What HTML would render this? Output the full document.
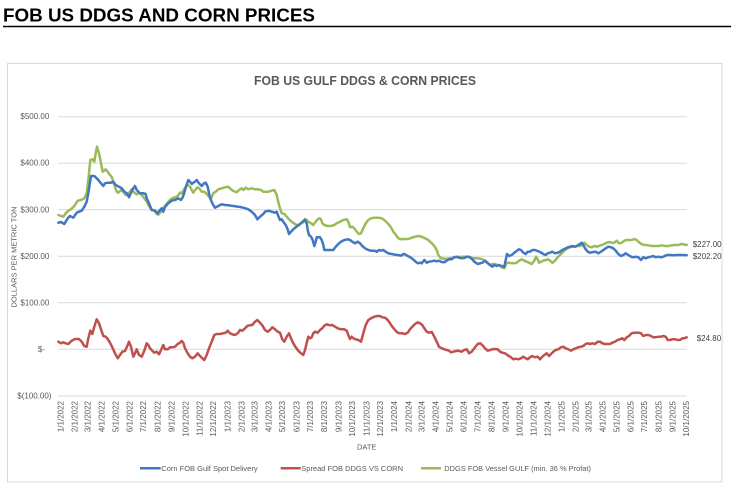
<!DOCTYPE html>
<html><head><meta charset="utf-8"><style>
html,body{margin:0;padding:0;background:#fff;}
svg{display:block;}
text{font-family:"Liberation Sans",Arial,sans-serif;}
</style></head><body>
<svg width="731" height="492" viewBox="0 0 731 492" xmlns="http://www.w3.org/2000/svg">
<rect width="731" height="492" fill="#fff"/>
<text x="3" y="21.7" font-size="18.5" font-weight="bold" fill="#000" textLength="312" lengthAdjust="spacingAndGlyphs">FOB US DDGS AND CORN PRICES</text>
<line x1="3" y1="26.5" x2="731" y2="26.5" stroke="#000" stroke-width="1.4"/>
<rect x="7.5" y="63.5" width="714.5" height="418.5" fill="#fff" stroke="#d9d9d9" stroke-width="1"/>
<text x="254" y="85" font-size="12.5" font-weight="bold" fill="#595959" textLength="222" lengthAdjust="spacingAndGlyphs">FOB US GULF DDGS &amp; CORN PRICES</text>
<g stroke="#d9d9d9" stroke-width="1">
<line x1="58" y1="116.7" x2="687" y2="116.7"/>
<line x1="58" y1="163.2" x2="687" y2="163.2"/>
<line x1="58" y1="209.8" x2="687" y2="209.8"/>
<line x1="58" y1="256.3" x2="687" y2="256.3"/>
<line x1="58" y1="302.8" x2="687" y2="302.8"/>
<line x1="58" y1="349.3" x2="687" y2="349.3"/>
<line x1="58" y1="395.9" x2="687" y2="395.9"/>
</g>
<g font-size="8" fill="#595959" text-anchor="end" dominant-baseline="central">
<text x="49.3" y="116.7">$500.00</text>
<text x="49.3" y="163.2">$400.00</text>
<text x="49.3" y="209.8">$300.00</text>
<text x="49.3" y="256.3">$200.00</text>
<text x="49.3" y="302.8">$100.00</text>
<text x="45" y="349.3">$-</text>
<text x="51.5" y="395.9">$(100.00)</text>
</g>
<text transform="translate(14,257) rotate(-90)" font-size="7.5" fill="#595959" text-anchor="middle" dominant-baseline="central">DOLLARS PER METRIC TON</text>
<g font-size="8" fill="#595959" text-anchor="end" dominant-baseline="central">
<text transform="translate(61.0,401) rotate(-90)">1/1/2022</text>
<text transform="translate(75.2,401) rotate(-90)">2/1/2022</text>
<text transform="translate(88.0,401) rotate(-90)">3/1/2022</text>
<text transform="translate(102.1,401) rotate(-90)">4/1/2022</text>
<text transform="translate(115.8,401) rotate(-90)">5/1/2022</text>
<text transform="translate(130.0,401) rotate(-90)">6/1/2022</text>
<text transform="translate(143.7,401) rotate(-90)">7/1/2022</text>
<text transform="translate(157.9,401) rotate(-90)">8/1/2022</text>
<text transform="translate(172.1,401) rotate(-90)">9/1/2022</text>
<text transform="translate(185.8,401) rotate(-90)">10/1/2022</text>
<text transform="translate(199.9,401) rotate(-90)">11/1/2022</text>
<text transform="translate(213.7,401) rotate(-90)">12/1/2022</text>
<text transform="translate(227.8,401) rotate(-90)">1/1/2023</text>
<text transform="translate(242.0,401) rotate(-90)">2/1/2023</text>
<text transform="translate(254.8,401) rotate(-90)">3/1/2023</text>
<text transform="translate(269.0,401) rotate(-90)">4/1/2023</text>
<text transform="translate(282.7,401) rotate(-90)">5/1/2023</text>
<text transform="translate(296.8,401) rotate(-90)">6/1/2023</text>
<text transform="translate(310.6,401) rotate(-90)">7/1/2023</text>
<text transform="translate(324.7,401) rotate(-90)">8/1/2023</text>
<text transform="translate(338.9,401) rotate(-90)">9/1/2023</text>
<text transform="translate(352.6,401) rotate(-90)">10/1/2023</text>
<text transform="translate(366.8,401) rotate(-90)">11/1/2023</text>
<text transform="translate(380.5,401) rotate(-90)">12/1/2023</text>
<text transform="translate(394.6,401) rotate(-90)">1/1/2024</text>
<text transform="translate(408.8,401) rotate(-90)">2/1/2024</text>
<text transform="translate(422.1,401) rotate(-90)">3/1/2024</text>
<text transform="translate(436.2,401) rotate(-90)">4/1/2024</text>
<text transform="translate(449.9,401) rotate(-90)">5/1/2024</text>
<text transform="translate(464.1,401) rotate(-90)">6/1/2024</text>
<text transform="translate(477.8,401) rotate(-90)">7/1/2024</text>
<text transform="translate(492.0,401) rotate(-90)">8/1/2024</text>
<text transform="translate(506.2,401) rotate(-90)">9/1/2024</text>
<text transform="translate(519.9,401) rotate(-90)">10/1/2024</text>
<text transform="translate(534.0,401) rotate(-90)">11/1/2024</text>
<text transform="translate(547.8,401) rotate(-90)">12/1/2024</text>
<text transform="translate(561.9,401) rotate(-90)">1/1/2025</text>
<text transform="translate(576.1,401) rotate(-90)">2/1/2025</text>
<text transform="translate(588.9,401) rotate(-90)">3/1/2025</text>
<text transform="translate(603.1,401) rotate(-90)">4/1/2025</text>
<text transform="translate(616.8,401) rotate(-90)">5/1/2025</text>
<text transform="translate(631.0,401) rotate(-90)">6/1/2025</text>
<text transform="translate(644.7,401) rotate(-90)">7/1/2025</text>
<text transform="translate(658.8,401) rotate(-90)">8/1/2025</text>
<text transform="translate(673.0,401) rotate(-90)">9/1/2025</text>
<text transform="translate(686.7,401) rotate(-90)">10/1/2025</text>
</g>
<text x="366.7" y="447" font-size="7.5" fill="#595959" text-anchor="middle" dominant-baseline="central">DATE</text>
<g fill="none" stroke-width="2.5" stroke-linejoin="round" stroke-linecap="round">
<polyline stroke="#9bbb59" points="58.3,215 61,216 63.3,216.7 65.7,213.3 68.3,210.7 71,209.3 74.3,206 77.7,200.7 81,200 84.3,198.3 86.7,193.3 88.3,180 90.3,160 92.3,159.3 94.3,161.7 95.7,153.3 97,146.7 99,153.3 101,163.3 102.7,171.7 104.3,170.7 105.7,169.3 107.7,171.7 110,175 111.7,176.7 113.3,181.7 115,186.7 116.7,191.7 118.3,192.7 121,190 123.3,191.7 125.7,195 127.7,194 130,191.7 131.7,189.3 134.3,192.7 136.7,194.3 139,192.7 141.7,195 144.3,198.3 146.7,201.7 149,206 151.7,210 154.3,210 156.7,214 158.3,214.7 161,211.7 163.3,208.3 165,206 167.7,202.7 170,200 172.3,198.3 175,197.3 177.7,196 180,192.7 181.7,193.3 183.3,190.7 185.7,186.7 187.7,185 190,186.7 191.7,190 193.3,192.7 195,190 197.7,187.3 200,189.3 201.7,191.7 204.3,191.7 206.7,194 209,196.7 211,198.3 213.3,193.3 215.7,191.7 218.3,189.3 221.7,188.3 225,187.3 228.3,186.7 231,189.3 233.3,191 236.7,192.3 239,190 241.7,188.3 243.3,190 245.7,187.7 248.3,189.3 251.7,188.3 255,189.3 258.3,189.3 261,190 263.3,191.7 265,191.7 268.3,191.7 271.7,190.7 274.3,190 276.7,195 279,205 281.7,213.3 284.3,214 286.7,216.7 289,219.3 291.7,221.7 295,224 298.3,226 301,223.3 303.3,220.7 305,219 306.7,220 308.3,221.7 311,223.3 313.3,225 315.7,221.7 317.7,219.3 319.3,218.3 321,219.3 322.3,223.3 324.3,225 327.7,226 331,226 334.3,225 336.7,223.3 340,221.7 343.3,220 346.7,219.3 348.3,221.7 350,227.3 352.3,226.7 354.3,228.3 356.7,231.7 359,234 361,233.3 363.3,228.3 365.7,223.3 368.3,220 371,218.3 374.3,217.7 378.3,217.7 381.7,218.3 384.3,220 387.7,223.3 391,227.3 393.3,231.7 396,235 398.3,238.3 401.7,239.3 405,239 408.3,239 411.7,237.7 415,236.7 418.3,236 421.7,236.7 425,238.3 428.3,240 431.7,243.3 434.3,246 436.7,250 438.3,255 441,258.3 444.3,258.7 447.7,258.7 451,258 455,257.3 459,257 463.3,256.7 466.7,256.7 470,257.3 473.3,258.3 475,258.3 477.7,258.3 480,258.7 482.3,259.3 485,260.7 487.7,262.7 490,265 492.3,264 495,264 497.7,265 500,266 502.3,267.7 504.3,268.3 505.7,265 507,262.7 509,262.7 511.7,263.3 514.3,263.3 516.7,262.7 519,260.7 521.7,259.3 524.3,260.7 526.7,261.7 529,262.7 531.7,264 534.3,260.7 536,256.7 537.7,259.3 539,262.7 541,261.7 543.3,260.7 545.7,260 548.3,259.3 550,260.7 552.3,262.7 555,260.7 557.7,257.3 560,255 562.3,252.7 565,250 567.7,248.3 570,247.3 572.3,246.7 575,246.7 577.7,246 580,246 582.3,245 584.3,242.7 586.7,245 589,246.7 591.7,247.3 594.3,246 596.7,246.7 599,246 601.7,245 604.3,244 606.7,242.7 609,242 611.7,242.7 614.3,242.7 616.7,240.7 619,243.3 621.7,242.7 624.3,240.7 626.7,240 629,240 631.7,240 634.3,239 636.7,240 639,242.3 641.7,244.3 645,245 648.3,245.3 651.7,246 655,246 658.3,246 661.7,245.3 665,246 668.3,246 671.7,245.3 675,245 678.3,245 681,244 683.3,244.3 686.7,245"/>
<polyline stroke="#4277c2" points="58.3,222.7 61,222 64.3,224 67.7,218.3 70,216 73.3,217.7 76.7,212.7 80,211.3 81.7,210.7 84.3,206.7 86.7,201.7 88.3,193.3 91,176 94.3,176 97.7,179.3 101,183.3 103.3,186 105,183.3 107.7,182.7 111,182.7 113.3,181.7 115.7,185 119,186.7 121.7,188.3 124.3,191.7 126.7,193.3 129,197.3 131,192.7 133.3,188.3 135,186 136.7,190 140,193.3 143.3,193.3 145.7,194 146.7,198.3 149,203.3 151.7,210 155,210.7 157.7,213.3 160,210 161.7,208.3 163.3,211.7 165,206.7 168.3,203.3 171.7,200.7 175,200 178.3,198.3 181,200 182.7,197.3 184.3,192.7 186,186.7 188.3,180 190,181.7 191.7,184 193.3,182.7 195,181.7 196.7,180 199,183.3 201.7,186 204,183.3 205.7,182.7 207.7,186.7 209,193.3 210.3,198.3 212.3,203.3 215,207.7 218.3,206 221.7,204.3 225,205 228.3,205.3 233.3,206 238.3,206.7 243.3,207.7 248.3,209.3 251.7,211.7 255,215 257.3,219.3 260,216.7 263.3,214 265,211.7 268.3,210.7 271.7,211.7 275,212.7 276.7,211.7 278.3,216 280,220 281.7,219.3 283.3,221.7 285.7,225 287.7,229.3 289,234 291,231.7 293.3,229.3 295.7,227.3 298.3,225 301,223.3 303.3,221.7 305,220 306.7,223.3 307.7,230 309,235 311,236.7 312.7,240 314.3,246 315.7,241.7 316.7,237.3 318.3,237.3 320,237.3 321.7,240 323.3,245 324.3,250 326.7,250 330,250 333.3,250 335.7,246.7 338.3,244 341,241.7 344.3,240 347.7,239.3 350,240 352.3,241.7 355,243.3 357.7,241.7 360,243.3 362.3,246 365,248.3 368.3,250 371,250.7 374.3,250.7 376.7,251.7 379,250 381,250.7 383.3,250 385.7,251.7 388.3,253.3 391.7,254 395,254.7 397.7,255 401,255.7 403.3,254 405,254.3 407.7,256 410.3,257.3 413,259.3 415.7,261.7 417.7,263.3 420,262.7 421.7,263.3 424.3,260 426.7,262.7 429,261.7 431.7,261.3 434.3,260.7 436.7,261.3 439,260.7 441.7,262 444.3,262.3 446.7,260.7 449,259.3 451.7,259.3 454.3,257.3 456.7,256.7 459,257.7 461.7,258.3 464.3,258 466.7,256.7 469,256.7 471.7,258.7 474.3,261.7 477.7,264 480,263.3 482.3,262.7 485,260.7 487.7,263.3 490,265 492.3,266.7 494.3,265 496.7,266 499,265 501.7,266 504.3,266.7 505.7,260 507,254 509,256 511.7,255 514.3,252.7 516.7,251 519,249.3 521,250 523.3,252.7 525.7,254 527.7,251.7 530,251.7 532.3,250 535,250 537.7,251 540,252 543.3,254 545.7,255 547.7,253.3 550,252.7 552.3,251.7 555,253.3 557.7,252.7 560,251.7 562.3,250 565,248.7 567.7,247.3 570,246.7 572.3,246 575,246.7 577.7,245.3 580,244 581.7,242.7 583.3,245 585,248.3 587.7,251.7 590,252.7 593.3,252 595.7,251.7 598.3,253.3 601,251.7 603.3,250 605.7,248.3 608.3,246.7 611,247.3 613.3,248.3 615.7,250.7 618.3,254 621,256 623.3,255 625.7,253.3 628.3,255 631,256.7 633.3,257.3 635.7,256.7 638.3,257.3 641,260 643.3,257.3 645.7,258.3 648.3,257.3 651,256.7 653.3,256 655.7,257.3 658.3,256.7 661,257.3 663.3,256.7 666.7,255 670,255 673.3,255.3 676.7,255 680,255 683.3,255 686.7,255.3"/>
<polyline stroke="#c0504d" points="58.3,341.7 61,343.3 63.3,342.3 65.7,343.3 68.3,344 71.7,340.7 75,339 79,339 81.7,341.7 84.3,346 86.7,346.7 88.3,338.3 90.3,330.7 92.3,334 94.3,326.7 96.7,319.3 99,323.3 101,329.3 103.3,336 105.7,336.7 107.7,339 110,342.7 112.3,347.3 115,353.3 117.7,358.3 120,355 122.3,351.7 125,351 127.7,345 129,341.7 131,346.7 133.3,356.7 135,353.3 136.7,349.3 139,355 141.7,356.7 144.3,350.7 146.7,343.3 148.3,345 150,348.3 152.3,350.7 154.3,352.7 156.7,351.7 159,354.3 161,350 163.3,345 165,349.3 167.7,349.3 170,347.3 172.3,347.3 175,346.7 177.7,344 180,342.7 181.7,341 183.3,342.7 185,348.3 187.7,353.3 190,356.7 192.3,358.3 195,356.7 197.7,353.3 200,356 202.3,358.3 204.3,360 206.7,355 209,348.3 211.7,341.7 214.3,335 216.7,334 220,334 223.3,333.3 225.7,332.7 227.7,330.7 230,333.3 232.3,334.3 235,335 237.7,333.3 240,330 242.3,330.7 245,328.3 247.7,325.7 250,325.3 252.3,325 255,321.7 257.3,320 260,322.7 262.3,325.3 265,330 267.7,331.7 270,330 272.3,327.3 275,329.3 277.7,331.7 280,332.7 282.3,339.3 284.3,341.7 286.7,336.7 289,333.3 291,338.3 293.3,343.3 295.7,347.3 298.3,350.7 301,353.3 303.3,355 305,350 307,341.7 308.3,336.7 310,338.3 311.7,337.3 313.3,333.3 315,331.7 317.7,332.7 320,330 322.3,328.3 324.3,325.7 326.7,324.3 330,325.3 332.3,325 335,326.7 337.7,328.3 341,329.3 344.3,329.3 346.7,330.7 348.3,335 350,339 351.7,336.7 353.3,338.3 355.7,339.3 358.3,340 361,341.7 363.3,333.3 365.7,325 368.3,320 371,318.3 374.3,316.7 377.7,316 380,316 382.3,317.3 385,317.7 387.7,320 390,323.3 392.3,326.7 395,330 397.7,332.7 400,333.3 402.3,333.3 405,334 407.7,332.7 410,329.3 412.3,326.7 415,324 417.7,322.3 420,323.3 422.3,325 424.3,328.3 426.7,331.7 429,332.7 431.7,332 434.3,336.7 436.7,341.7 439,346.7 441.7,348.3 444.3,349.3 446.7,350 449,350.7 451,352.3 453.3,351.7 455.7,351 458.3,350.7 461.7,351.7 464.3,350 466.7,349.3 469,353.3 471.7,351.7 474.3,348.3 477.7,344 480,343.3 482.3,345 485,348.3 487.7,350.7 490,350 492.3,349.3 495,349 497.7,349.3 500,351.7 502.3,352.7 505,353.3 507.3,355 509,356 511,357.3 513.3,359.3 515.7,358.7 518.3,359.3 521,358.3 523.3,356.7 525.7,358.3 527.7,359.3 530,357.3 532.3,356 535,357.3 537.7,356.7 540,359.3 541.7,357.3 544.3,355 546.7,353.3 549,356 551,354 553.3,351.7 555.7,350 558.3,349.3 561,347.3 563.3,346.7 565.7,348.3 568.3,349.3 571,350.7 573.3,349.3 575.7,348.3 578.3,347.3 581,346.7 583.3,346 585.7,344 587.7,343.3 590,344 592.3,343.3 595,344 597.7,341.7 600,341.7 602.3,343.3 605,344 607.7,344 610,344 612.3,342.7 615,341.7 617.7,340 620,339.3 622.3,338.3 624.3,340 626.7,337.3 629,336 631.7,333.3 634.3,332.7 636.7,332.7 639,332.7 641,333.3 643.3,336 645.7,335 648.3,335 651,336 653.3,337.3 655.7,337.3 658.3,336.7 661,336.7 663.3,336 665.7,336.7 667.7,340 670,340 672.3,339.3 675,339.3 677.7,340 680,340 682.3,338.3 684.3,338.3 686.7,337.3"/>
</g>
<g font-size="8" fill="#404040" dominant-baseline="central">
<text x="692.7" y="244.3">$227.00</text>
<text x="692.7" y="256.5">$202.20</text>
<text x="696.7" y="338.7">$24.80</text>
</g>
<g stroke-width="2.5">
<line x1="140" y1="468.3" x2="160.7" y2="468.3" stroke="#4277c2"/>
<line x1="280.7" y1="468.3" x2="300.7" y2="468.3" stroke="#c0504d"/>
<line x1="421" y1="468.3" x2="441" y2="468.3" stroke="#9bbb59"/>
</g>
<g font-size="7.5" fill="#595959" dominant-baseline="central">
<text x="161.3" y="468.3">Corn FOB Gulf Spot Delivery</text>
<text x="301.3" y="468.3">Spread FOB DDGS VS CORN</text>
<text x="444.3" y="468.3" textLength="146.7" lengthAdjust="spacingAndGlyphs">DDGS FOB Vessel GULF  (min. 36 % Profat)</text>
</g>
</svg>
</body></html>
